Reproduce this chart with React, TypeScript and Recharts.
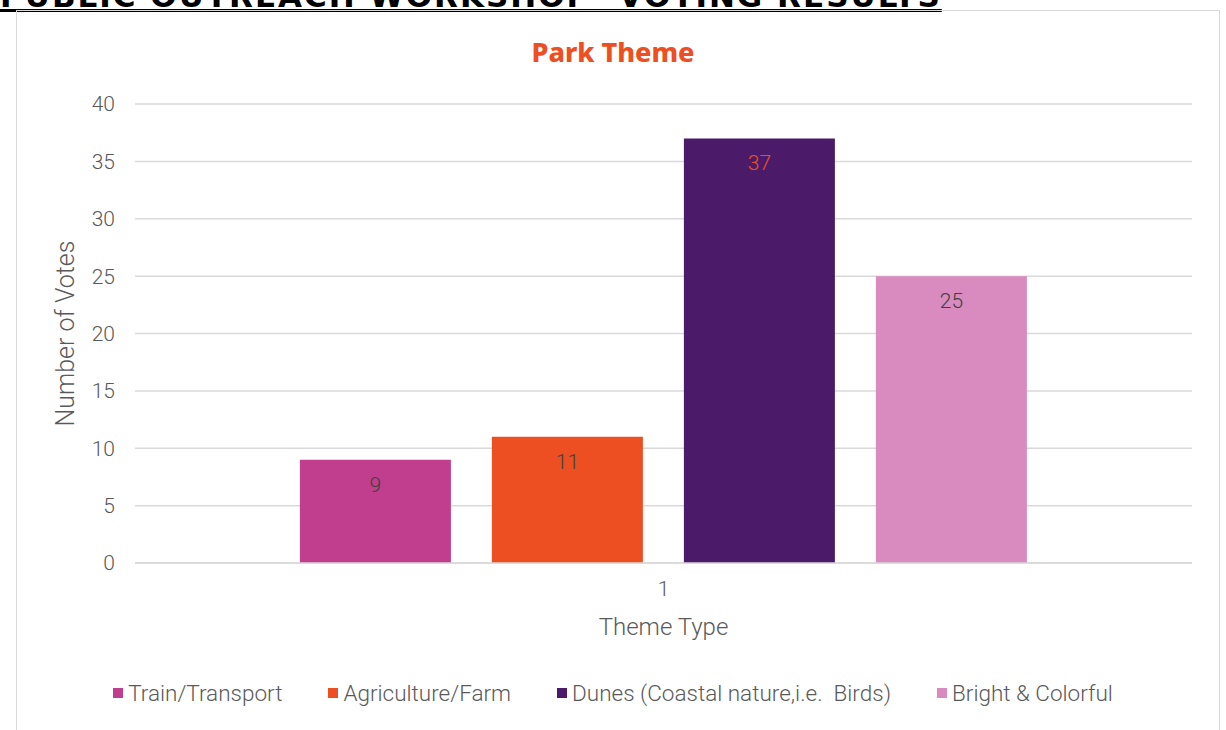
import { BarChart, Bar, XAxis, YAxis, CartesianGrid, Legend, LabelList } from "recharts"

const categories = ['1']
const seriesNames = ['Train/Transport', 'Agriculture/Farm', 'Dunes (Coastal nature,i.e.  Birds)', 'Bright & Colorful']
const seriesKeys = ['train', 'farm', 'dunes', 'bright']
const seriesColors = ['#C13E8E', '#EE4F22', '#4B1B69', '#D98ABF']
const labelColors = ['#404040', '#404040', '#EE4F22', '#404040']
const trainVotes = [9]
const farmVotes = [11]
const dunesVotes = [37]
const brightVotes = [25]
const yTicks = [0, 5, 10, 15, 20, 25, 30, 35, 40]

const data = categories.map((name, i) => ({
  name,
  train: trainVotes[i],
  farm: farmVotes[i],
  dunes: dunesVotes[i],
  bright: brightVotes[i],
}))

const FONT = "Roboto, 'Liberation Sans', sans-serif"
const GREY = '#595959'

function LegendBox() {
  return (
    <div style={{ display: 'flex', justifyContent: 'center', gap: 46, fontFamily: FONT, fontWeight: 300, fontSize: 22.5, color: GREY, lineHeight: '26px' }}>
      {seriesNames.map((n, i) => (
        <div key={n} style={{ display: 'flex', alignItems: 'center', whiteSpace: 'pre' }}>
          <span style={{ display: 'inline-block', width: 10, height: 10, background: seriesColors[i], marginRight: 5 }} />
          {n}
        </div>
      ))}
    </div>
  )
}

export default function App() {
  return (
    <div style={{ position: 'absolute', left: 0, top: 0, width: 1226, height: 730, overflow: 'hidden', background: '#fff' }}>
      <div style={{ position: 'absolute', left: 0, top: -20, fontFamily: "'DejaVu Sans', sans-serif", fontWeight: 900, fontSize: 31, lineHeight: '32px', color: '#000', textDecoration: 'underline', textDecorationThickness: 3, whiteSpace: 'nowrap', letterSpacing: 2 }}>
        PUBLIC OUTREACH WORKSHOP- VOTING RESULTS
      </div>
      <div style={{ position: 'absolute', left: 16, top: 10, width: 1204, height: 740, border: '1px solid #d9d9d9', boxSizing: 'border-box' }} />
      <div style={{ position: 'absolute', left: 0, top: 33, width: 1226, textAlign: 'center', fontFamily: "'Noto Sans', sans-serif", fontWeight: 800, fontSize: 27, color: '#EE4F22' }}>
        Park Theme
      </div>
      <div style={{ position: 'absolute', left: 0, top: 0 }}>
        <BarChart width={1226} height={730} data={data} margin={{ top: 104, right: 34, left: 15, bottom: 0 }} barCategoryGap="15.6%" barGap={41}>
          <CartesianGrid vertical={false} stroke="#d9d9d9" strokeWidth={1.5} />
          <XAxis
            dataKey="name"
            tickLine={false}
            axisLine={{ stroke: '#d9d9d9', strokeWidth: 1.5 }}
            tickSize={0}
            tickMargin={18}
            height={141}
            tick={{ fill: GREY, fontSize: 21, fontFamily: FONT, fontWeight: 300 }}
            label={{
              content: ({ viewBox }: any) => (
                <text x={viewBox.x + viewBox.width / 2} y={viewBox.y + 64} textAnchor="middle" dominantBaseline="central" fill={GREY} fontSize={24} fontFamily={FONT} fontWeight={300}>
                  Theme Type
                </text>
              ),
            }}
          />
          <YAxis
            width={120}
            domain={[0, 40]}
            ticks={yTicks}
            tickLine={false}
            axisLine={false}
            tickSize={0}
            tickMargin={20}
            tick={{ fill: GREY, fontSize: 21, fontFamily: FONT, fontWeight: 300 }}
            label={{
              content: ({ viewBox }: any) => (
                <text x={viewBox.x + 50} y={viewBox.y + viewBox.height / 2} transform={`rotate(-90 ${viewBox.x + 50} ${viewBox.y + viewBox.height / 2})`} textAnchor="middle" dominantBaseline="central" fill={GREY} fontSize={25} fontFamily={FONT} fontWeight={300}>
                  Number of Votes
                </text>
              ),
            }}
          />
          <Legend content={() => <LegendBox />} wrapperStyle={{ top: 680, left: 0, width: 1226, bottom: 'auto' }} />
          {seriesKeys.map((k, i) => (
            <Bar key={k} dataKey={k} name={seriesNames[i]} fill={seriesColors[i]} isAnimationActive={false}>
              <LabelList dataKey={k} position="insideTop" offset={17} fill={labelColors[i]} fontSize={21} fontFamily={FONT} fontWeight={300} />
            </Bar>
          ))}
        </BarChart>
      </div>
    </div>
  )
}
